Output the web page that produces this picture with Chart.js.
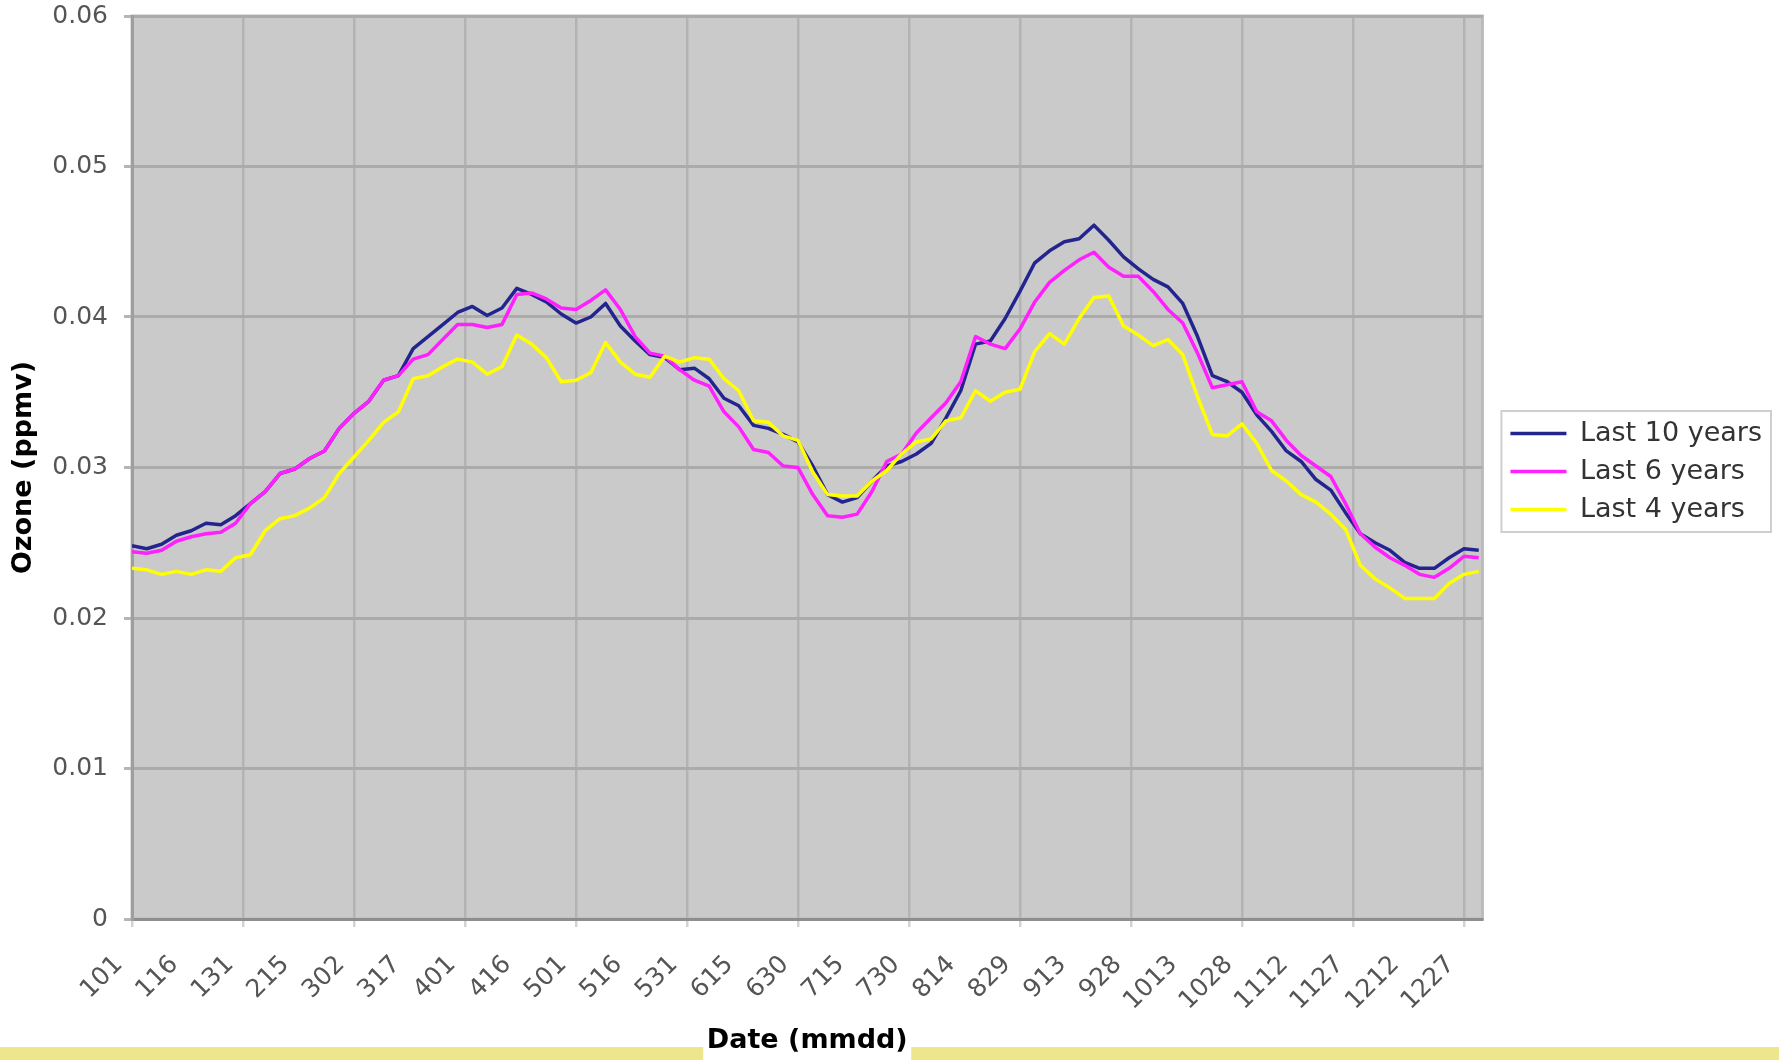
<!DOCTYPE html>
<html>
<head>
<meta charset="utf-8">
<title>Ozone by day of year</title>
<script src="https://cdn.jsdelivr.net/npm/chart.js@4.4.1/dist/chart.umd.min.js"></script>
<style>
    html, body { margin: 0; padding: 0; background: #fff; }
    #wrap { width: 1779px; height: 1060px; position: relative; }
</style>
</head>
<body>
<div id="wrap"><canvas id="ozoneChart"></canvas></div>
<script>
// Day offset from Jan 1 for every sampled point (every 4th day)
const DAYS = [
    0, 4, 8, 12, 16, 20, 24, 28, 32, 36,
    40, 44, 48, 52, 56, 60, 64, 68, 72, 76,
    80, 84, 88, 92, 96, 100, 104, 108, 112, 116,
    120, 124, 128, 132, 136, 140, 144, 148, 152, 156,
    160, 164, 168, 172, 176, 180, 184, 188, 192, 196,
    200, 204, 208, 212, 216, 220, 224, 228, 232, 236,
    240, 244, 248, 252, 256, 260, 264, 268, 272, 276,
    280, 284, 288, 292, 296, 300, 304, 308, 312, 316,
    320, 324, 328, 332, 336, 340, 344, 348, 352, 356,
    360, 364,
];

const LAST_10_YEARS = [
    0.0248, 0.0246, 0.0249, 0.0255, 0.0258, 0.0263, 0.0262, 0.0268, 0.0276, 0.0284,
    0.0296, 0.0299, 0.0306, 0.0311, 0.0326, 0.0336, 0.0344, 0.0358, 0.0361, 0.0379,
    0.0387, 0.0395, 0.0403, 0.0407, 0.0401, 0.0406, 0.0419, 0.0415, 0.0410, 0.0402,
    0.0396, 0.0400, 0.0409, 0.0394, 0.0384, 0.0375, 0.0373, 0.0365, 0.0366, 0.0359,
    0.0346, 0.0341, 0.0328, 0.0326, 0.0322, 0.0317, 0.0301, 0.0282, 0.0277, 0.0280,
    0.0291, 0.0301, 0.0304, 0.0309, 0.0316, 0.0333, 0.0351, 0.0382, 0.0384, 0.0399,
    0.0417, 0.0436, 0.0444, 0.0450, 0.0452, 0.0461, 0.0451, 0.0440, 0.0432, 0.0425,
    0.0420, 0.0409, 0.0387, 0.0361, 0.0357, 0.0350, 0.0335, 0.0324, 0.0311, 0.0304,
    0.0292, 0.0285, 0.0270, 0.0256, 0.0250, 0.0245, 0.0237, 0.0233, 0.0233, 0.0240,
    0.0246, 0.0245,
];

const LAST_6_YEARS = [
    0.0244, 0.0243, 0.0245, 0.0251, 0.0254, 0.0256, 0.0257, 0.0263, 0.0276, 0.0284,
    0.0296, 0.0299, 0.0306, 0.0311, 0.0326, 0.0336, 0.0344, 0.0358, 0.0361, 0.0372,
    0.0375, 0.0385, 0.0395, 0.0395, 0.0393, 0.0395, 0.0415, 0.0416, 0.0412, 0.0406,
    0.0405, 0.0411, 0.0418, 0.0405, 0.0387, 0.0376, 0.0374, 0.0365, 0.0358, 0.0354,
    0.0337, 0.0327, 0.0312, 0.0310, 0.0301, 0.0300, 0.0282, 0.0268, 0.0267, 0.0269,
    0.0284, 0.0304, 0.0309, 0.0323, 0.0333, 0.0343, 0.0357, 0.0387, 0.0382, 0.0379,
    0.0392, 0.0410, 0.0423, 0.0431, 0.0438, 0.0443, 0.0433, 0.0427, 0.0427, 0.0417,
    0.0405, 0.0396, 0.0376, 0.0353, 0.0355, 0.0357, 0.0337, 0.0331, 0.0318, 0.0308,
    0.0301, 0.0294, 0.0276, 0.0256, 0.0247, 0.0240, 0.0235, 0.0229, 0.0227, 0.0233,
    0.0241, 0.0240,
];

const LAST_4_YEARS = [
    0.0233, 0.0232, 0.0229, 0.0231, 0.0229, 0.0232, 0.0231, 0.0240, 0.0242, 0.0258,
    0.0266, 0.0268, 0.0273, 0.0280, 0.0296, 0.0307, 0.0318, 0.0330, 0.0337, 0.0359,
    0.0361, 0.0367, 0.0372, 0.0370, 0.0362, 0.0367, 0.0388, 0.0382, 0.0373, 0.0357,
    0.0358, 0.0363, 0.0383, 0.0370, 0.0362, 0.0360, 0.0374, 0.0370, 0.0373, 0.0372,
    0.0359, 0.0351, 0.0331, 0.0330, 0.0321, 0.0318, 0.0297, 0.0282, 0.0281, 0.0281,
    0.0291, 0.0298, 0.0309, 0.0317, 0.0319, 0.0331, 0.0333, 0.0351, 0.0344, 0.0350,
    0.0352, 0.0377, 0.0389, 0.0382, 0.0399, 0.0413, 0.0414, 0.0394, 0.0388, 0.0381,
    0.0385, 0.0375, 0.0347, 0.0322, 0.0321, 0.0329, 0.0316, 0.0298, 0.0291, 0.0282,
    0.0277, 0.0269, 0.0259, 0.0235, 0.0226, 0.0220, 0.0213, 0.0213, 0.0213, 0.0223,
    0.0229, 0.0231,
];

// Axis ticks: one label every 15 days
const TICK_DAYS = [
    0, 15, 30, 45, 60, 75, 90, 105, 120, 135, 150, 165, 180,
    195, 210, 225, 240, 255, 270, 285, 300, 315, 330, 345, 360,
];
const TICK_LABELS = [
    '101', '116', '131', '215', '302', '317', '401', '416', '501', '516', '531', '615', '630',
    '715', '730', '814', '829', '913', '928', '1013', '1028', '1112', '1127', '1212', '1227',
];

const FONT = "'DejaVu Sans', Verdana, sans-serif";

// Grey plot area, light frame and the yellow strip along the bottom edge
const plotBackground = {
    id: 'plotBackground',
    beforeDraw(chart) {
        const { ctx, chartArea: a, width, height } = chart;
        const stripTop = 1047;
        const mid = (a.left + a.right) / 2;
        ctx.save();
        ctx.fillStyle = '#EEE68C';
        ctx.fillRect(0, stripTop, width, height - stripTop);
        ctx.fillStyle = '#FFFFFF';
        ctx.fillRect(mid - 104, stripTop, 208, height - stripTop);
        ctx.fillStyle = '#CACACA';
        ctx.fillRect(a.left, a.top, a.right - a.left, a.bottom - a.top);
        ctx.strokeStyle = '#BBBBBB';
        ctx.lineWidth = 3;
        ctx.strokeRect(a.left, a.top, a.right - a.left, a.bottom - a.top);
        ctx.restore();
    },
};

// Legend sits a little away from the plot, with a thin frame round it
const legendFrame = {
    id: 'legendFrame',
    afterLayout(chart) {
        const lg = chart.legend;
        if (!lg) return;
        lg.left += 17;
        lg.right += 17;
        lg.top += 4;
        lg.bottom += 4;
    },
    afterDraw(chart) {
        const boxes = chart.legend && chart.legend.legendHitBoxes;
        if (!boxes || boxes.length === 0) return;
        const left = Math.min(...boxes.map(b => b.left)) - 9;
        const right = Math.max(...boxes.map(b => b.left + b.width)) + 9;
        const top = Math.min(...boxes.map(b => b.top)) - 9;
        const bottom = Math.max(...boxes.map(b => b.top + b.height)) + 9;
        const { ctx } = chart;
        ctx.save();
        ctx.strokeStyle = '#CFCFCF';
        ctx.lineWidth = 2;
        ctx.strokeRect(left, top, right - left, bottom - top);
        ctx.restore();
    },
};

const toPoints = (values) => DAYS.map((d, i) => ({ x: d, y: values[i] }));

const lineStyle = {
    borderWidth: 3.5,
    pointRadius: 0,
    pointHoverRadius: 0,
    tension: 0,
    borderJoinStyle: 'round',
    fill: false,
};

new Chart(document.getElementById('ozoneChart'), {
    type: 'line',
    data: {
        datasets: [
            { label: 'Last 10 years', data: toPoints(LAST_10_YEARS), borderColor: '#24248F', backgroundColor: '#24248F', order: 3, ...lineStyle },
            { label: 'Last 6 years', data: toPoints(LAST_6_YEARS), borderColor: '#FF1FFF', backgroundColor: '#FF1FFF', order: 2, ...lineStyle },
            { label: 'Last 4 years', data: toPoints(LAST_4_YEARS), borderColor: '#FFFF00', backgroundColor: '#FFFF00', order: 1, ...lineStyle },
        ],
    },
    options: {
        responsive: true,
        maintainAspectRatio: false,
        animation: false,
        layout: { padding: { top: 16, right: 24, bottom: 0, left: 0 } },
        plugins: {
            legend: {
                position: 'right',
                fullSize: false,
                labels: {
                    usePointStyle: true,
                    pointStyle: 'line',
                    pointStyleWidth: 56,
                    color: '#333333',
                    font: { family: FONT, size: 27 },
                    padding: 11,
                    sort: (a, b) => a.datasetIndex - b.datasetIndex,
                },
            },
            tooltip: { enabled: false },
        },
        scales: {
            x: {
                type: 'linear',
                min: 0,
                max: 365,
                afterBuildTicks: (scale) => {
                    scale.ticks = TICK_DAYS.map(v => ({ value: v }));
                },
                afterFit: (scale) => { scale.height = 141; },
                border: { color: '#8E8E8E', width: 3 },
                grid: {
                    // gridline on every second label only
                    color: (c) => c.index % 2 === 0 ? '#B3B3B3' : 'rgba(0,0,0,0)',
                    tickColor: (c) => c.index % 2 === 0 ? '#D2D2D2' : 'rgba(0,0,0,0)',
                    lineWidth: 2.5,
                    tickLength: 8,
                },
                ticks: {
                    autoSkip: false,
                    maxRotation: 45,
                    minRotation: 45,
                    padding: 23,
                    labelOffset: -13,
                    color: '#555555',
                    font: { family: FONT, size: 25 },
                    callback: (val, idx) => TICK_LABELS[idx],
                },
                title: {
                    display: true,
                    text: 'Date (mmdd)',
                    color: '#000000',
                    font: { family: FONT, size: 27, weight: 'bold' },
                    padding: { top: 0, bottom: 3 },
                },
            },
            y: {
                min: 0,
                max: 0.06,
                afterFit: (scale) => {
                    scale.width = 132;
                    // top label may overhang the frame like in the original
                    scale.paddingTop = 0;
                    scale.paddingBottom = 0;
                },
                border: { color: '#9E9E9E', width: 3 },
                grid: {
                    color: '#ABABAB',
                    lineWidth: 3,
                    tickLength: 8,
                    tickColor: '#B5B5B5',
                },
                ticks: {
                    stepSize: 0.01,
                    padding: 16,
                    color: '#555555',
                    font: { family: FONT, size: 25 },
                    callback: (v) => v === 0 ? '0' : v.toFixed(2),
                },
                title: {
                    display: true,
                    text: 'Ozone (ppmv)',
                    color: '#000000',
                    font: { family: FONT, size: 27, weight: 'bold' },
                    padding: { top: 8, bottom: 0 },
                },
            },
        },
    },
    plugins: [plotBackground, legendFrame],
});
</script>
</body>
</html>
